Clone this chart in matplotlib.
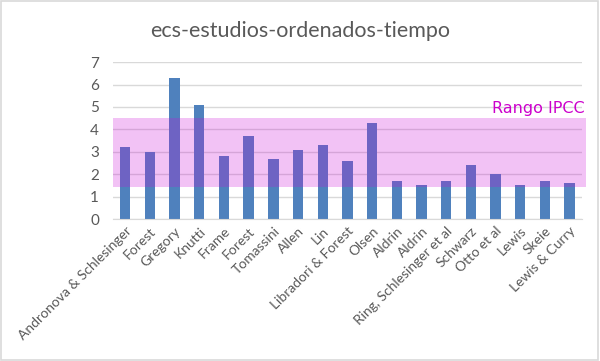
import matplotlib

matplotlib.use("Agg")
import matplotlib.pyplot as plt
from matplotlib.patches import Rectangle

# --- data --------------------------------------------------------------------
studies = ["Andronova & Schlesinger", "Forest", "Gregory", "Knutti", "Frame",
           "Forest", "Tomassini", "Allen", "Lin", "Libradori & Forest", "Olsen",
           "Aldrin", "Aldrin", "Ring, Schlesinger et al", "Schwarz", "Otto et al",
           "Lewis", "Skeie", "Lewis & Curry"]
ecs = [3.2, 3.0, 6.3, 5.1, 2.8, 3.7, 2.7, 3.1, 3.3, 2.6, 4.3,
       1.7, 1.5, 1.7, 2.4, 2.0, 1.5, 1.7, 1.6]
ipcc_range = [1.45, 4.5]

BLUE, PINK, MAGENTA = "#4f81bd", "#cc0cd8", "#cc00cc"
GRID, TXT = "#d9d9d9", "#595959"

plt.rcParams["font.family"] = ["Lato", "DejaVu Sans"]

fig = plt.figure(figsize=(6.0, 3.61), dpi=100)
ax = fig.add_axes([0.188, 0.393, 0.782, 0.435])

x = range(len(studies))
ax.bar(x, ecs, width=0.42, color=BLUE, zorder=2)

# IPCC band, drawn over the bars with transparency
lo, hi = ipcc_range
band = Rectangle((0, lo), 1.008, hi - lo, transform=ax.get_yaxis_transform(),
                 facecolor=PINK, alpha=0.25, lw=0, zorder=3, clip_on=False)
ax.add_patch(band)
ax.text(1.005, hi + 0.08, "Rango IPCC", transform=ax.get_yaxis_transform(),
        ha="right", va="bottom", color=MAGENTA, fontsize=11.5,
        family="DejaVu Sans")

ax.set_xlim(-0.5, len(studies) - 0.5)
ax.set_ylim(0, 7)
ax.set_yticks(range(0, 8))
ax.yaxis.grid(True, color=GRID, lw=1, zorder=0)
ax.set_axisbelow(True)
ax.set_xticks(list(x))
ax.set_xticklabels(studies, rotation=45, ha="right", rotation_mode="anchor",
                   fontsize=10, color=TXT)
ax.tick_params(axis="y", labelsize=11, colors=TXT, length=0, pad=10)
ax.tick_params(axis="x", length=0, pad=4)
for s in ("top", "right", "left"):
    ax.spines[s].set_visible(False)
ax.spines["bottom"].set_color(GRID)

fig.text(0.5, 0.915, "ecs-estudios-ordenados-tiempo", ha="center", va="center",
         fontsize=15.5, color=TXT)

# chart border
fig.patches.append(Rectangle((0.002, 0.003), 0.995, 0.993, transform=fig.transFigure,
                             fill=False, edgecolor=GRID, lw=1.2))

fig.savefig("out.png", dpi=100)
